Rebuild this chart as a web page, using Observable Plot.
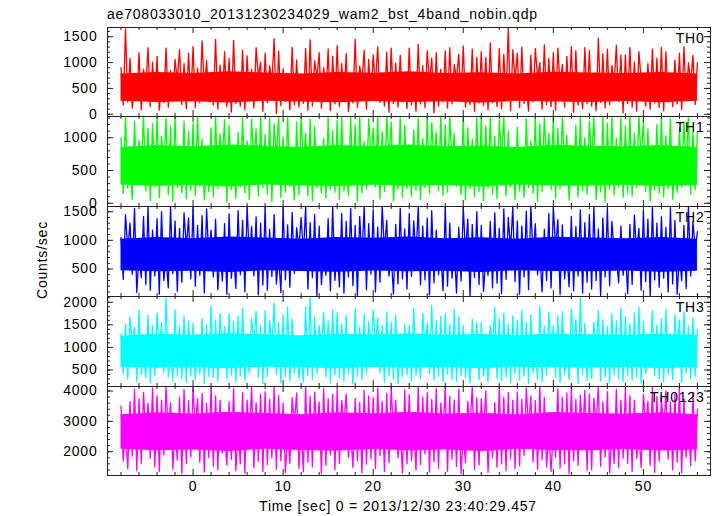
<!DOCTYPE html>
<html><head><meta charset="utf-8">
<script src="https://cdn.jsdelivr.net/npm/d3@7"></script>
<script src="https://cdn.jsdelivr.net/npm/@observablehq/plot@0.6"></script>
<style>
body{margin:0;background:#fff;}
#chart{position:relative;width:717px;height:516px;overflow:hidden;font-family:"Liberation Sans",Arial,sans-serif;color:#000;}
#chart svg{position:absolute;left:0;}
.lbl{position:absolute;font-size:14px;line-height:14px;letter-spacing:0.8px;white-space:nowrap;}
</style></head><body>
<div id="chart">
<div class="lbl" style="left:107px;top:7px">ae708033010_20131230234029_wam2_bst_4band_nobin.qdp</div>
<div class="lbl" style="left:398px;top:499px;transform:translateX(-50%)">Time [sec] 0 = 2013/12/30 23:40:29.457</div>
<div class="lbl" style="left:42px;top:260px;transform:translate(-50%,-50%) rotate(-90deg)">Counts/sec</div>
</div>
<script>
// ---- data ----
const seriesNames = ["TH0", "TH1", "TH2", "TH3", "TH0123"];
const seriesColors = ["#ff0000", "#00ff00", "#0000ff", "#00ffff", "#ff00ff"];

// light-curve samples every 0.25 s from -8 s to 56 s (rows of 4 s)
const tSample = d3.range(0, 257).map(k => -8 + k * 0.25);
// dense core band, every 4 s
const tCore = d3.range(-8, 57, 4);

const th0 = [
900,180,1650,240,1080,120,620,310,1190,90,870,540,1290,150,1010,260,
1120,80,580,230,1280,140,850,300,1060,650,1250,190,980,110,1180,270,
1310,130,890,220,1420,480,1040,250,700,180,1450,100,950,240,1210,150,
1080,40,1430,210,540,160,1240,90,1130,280,870,120,1290,720,1010,60,
1180,230,940,590,1460,20,1220,170,880,250,610,90,1300,190,1050,140,
660,210,1270,80,1440,160,1030,700,1190,120,900,300,1260,70,1120,200,
1330,150,980,260,1170,50,520,220,1450,130,930,630,1240,100,1060,270,
1150,560,1310,230,600,160,1200,40,1280,210,990,140,1140,250,680,110,
1280,180,640,60,1350,200,940,130,1230,580,1090,30,1190,160,870,240,
1230,120,1290,200,960,690,1160,250,1320,140,570,190,1260,60,1100,220,
1210,170,1100,90,1380,230,610,150,1270,110,1160,260,1720,70,1250,650,
1180,130,1300,210,560,60,1140,240,1270,700,1000,100,1340,190,1080,150,
1190,80,1280,540,960,140,1120,260,1310,40,1230,180,620,110,1290,200,
1230,160,680,70,1470,230,1170,120,1260,190,940,600,1330,250,1150,30,
1150,210,1290,140,1010,60,1210,660,590,160,980,100,1260,220,1090,130,
1290,70,1210,240,640,150,1050,200,1180,90,1310,260,1000,610,1140,190,
1000];
const th0CoreLo = [250,230,240,220,250,235,225,245,230,240,220,250,235,230,245,225,250];
const th0CoreHi = [780,810,790,820,800,780,810,795,820,790,805,780,815,800,790,810,780];

const th1 = [
1000,150,1380,230,620,60,1250,280,960,560,1330,190,1140,40,1210,250,
1400,90,1020,540,1290,130,1180,30,1360,240,700,160,1250,70,1100,200,
1220,120,1400,260,980,50,590,180,1150,100,1390,230,1060,680,1270,20,
1190,210,650,80,1080,250,1400,160,950,60,1280,600,1130,110,1360,240,
1050,140,1300,30,1210,720,1400,90,1010,170,1350,260,560,50,1240,130,
1390,580,1070,110,1280,40,1170,230,640,150,990,80,1320,210,1110,170,
1260,60,1400,190,600,120,1340,270,1200,30,1380,160,940,220,1290,690,
1150,250,1360,70,1090,180,1400,660,1240,40,550,210,1330,90,1190,230,
700,110,1120,200,1300,60,980,240,1370,150,1230,610,1080,190,1400,120,
1200,170,1340,650,1060,260,580,130,1400,50,1150,220,970,100,1310,180,
1380,40,1180,230,1400,140,1020,70,1270,700,1350,110,1100,250,620,60,
1160,190,560,90,1290,240,950,150,1360,30,1210,180,1400,640,1070,210,
1320,80,1140,220,1400,570,1040,50,690,270,1190,100,1370,190,1000,140,
1250,680,1400,60,620,170,1330,20,1220,210,1400,130,990,250,1300,90,
1180,160,1360,110,1070,240,1400,650,1260,180,1130,40,590,200,1200,150,
1400,100,1030,220,1290,60,610,170,1150,250,1240,560,1400,140,1080,210,
1100];
const th1CoreLo = [280,260,270,250,280,265,255,275,260,270,250,280,265,260,275,255,270];
const th1CoreHi = [850,880,860,890,870,850,880,865,890,860,875,850,885,870,860,880,850];

const th2 = [
1050,320,1450,820,1300,410,1560,90,760,350,1420,230,1600,130,1180,380,
1380,60,1500,300,700,170,1600,420,1340,110,1210,270,1480,880,1390,330,
1600,200,1260,390,1430,80,1550,720,1180,360,1370,140,840,290,1290,60,
1460,340,780,160,1520,400,1350,100,1600,690,1240,380,1410,50,1300,220,
1580,130,1190,370,1450,240,730,90,1600,310,1270,180,1490,420,1220,860,
1400,750,1600,150,1310,350,1450,40,1250,230,800,390,1380,120,1600,300,
870,190,1470,80,1330,360,1560,210,1260,30,1420,700,1600,140,1290,410,
1510,100,1230,270,1600,810,1350,380,740,60,1280,240,1560,330,1200,150,
1470,370,1340,690,1600,220,1250,310,1390,50,1520,260,1180,400,780,120,
1600,200,1300,340,850,80,1230,290,1580,760,1370,30,1280,350,1500,230,
1260,110,710,390,1330,170,1480,250,1210,70,1550,320,1400,830,1600,280,
1340,60,1250,360,1510,140,1600,720,1290,400,790,100,1190,300,1470,170,
1580,870,1360,50,1270,330,760,190,1420,120,1240,380,1530,80,1310,270,
1450,150,1600,300,1200,40,1390,360,1560,210,1330,800,700,260,1250,390,
820,70,1280,230,1440,740,1210,130,1520,280,1370,20,1600,310,1300,180,
1410,340,1230,100,1570,240,1350,60,770,300,1260,160,1600,380,1330,850,
1150];
const th2CoreLo = [470,450,460,440,470,455,445,465,450,460,440,470,455,450,465,445,460];
const th2CoreHi = [1020,1050,1030,1060,1040,1020,1050,1035,1060,1030,1045,1020,1055,1040,1030,1050,1020];

const th3 = [
1300,420,1520,300,1680,1050,1450,250,1820,400,900,330,1710,210,1480,380,
1760,850,1550,440,2100,340,980,260,1840,390,1470,310,1690,230,1580,370,
1530,280,1000,420,1640,200,1500,360,1920,330,1610,250,1750,880,1460,300,
1740,390,1580,230,1690,370,1870,280,820,430,1650,1080,1800,340,1480,200,
1810,360,1600,1000,1980,410,1550,220,1720,350,1890,270,1630,440,940,320,
870,240,1900,380,2110,300,1670,430,1490,960,1770,350,1590,210,1840,400,
1770,330,1520,250,1700,410,1020,190,1860,360,1450,290,1730,420,1570,900,
1830,1070,1640,440,1490,230,1790,380,1560,300,1710,200,950,350,1510,400,
1480,260,1860,390,880,320,1750,990,1540,420,1930,280,1600,360,1690,240,
1740,410,1510,300,1850,250,1670,380,1480,330,1040,210,1620,860,1550,290,
1550,370,920,240,1490,1010,1880,310,1640,270,1760,350,1520,220,1700,420,
1600,280,1830,360,1560,210,1720,440,970,300,1910,250,1470,390,1780,840,
1480,340,1700,230,1790,400,900,290,1850,1060,1620,200,2100,410,1530,270,
1000,310,1560,880,1820,260,1610,350,1460,220,1740,390,1590,300,1870,240,
1680,380,1530,280,1760,330,1900,210,1570,420,860,950,1810,370,1500,310,
1630,250,1840,400,1030,290,1720,920,1610,230,1780,430,1480,300,1660,360,
1400];
const th3CoreLo = [560,540,550,530,560,545,535,555,540,550,530,560,545,540,555,535,550];
const th3CoreHi = [1250,1290,1270,1300,1280,1260,1290,1275,1300,1270,1285,1260,1295,1280,1270,1290,1260];

const th0123 = [
3500,1700,2700,1450,3650,1850,4050,1380,3750,1620,3950,2500,3600,1780,4100,1500,
3850,1350,3700,1900,4150,2600,3620,1420,2900,1720,3800,1280,4050,1600,3680,1830,
4100,2800,3750,1650,3920,1330,3600,1800,4150,1520,3850,1400,3700,1950,2550,1560,
3650,1750,4080,1380,2750,1600,3950,1290,3700,2450,4150,1470,3620,1680,3900,1350,
3980,1580,3720,1800,4120,1420,3850,1700,3600,1310,2600,1620,3780,2900,3940,1450,
2850,1340,4150,1660,3820,1500,3960,2500,3640,1280,4080,1560,3750,1900,3880,1410,
4060,1620,3690,2950,3900,1820,2650,1480,3760,1700,3620,1300,4020,1590,3840,1760,
3780,1450,4100,1870,3660,1350,3920,1640,4150,2550,3700,1800,2700,1290,4040,1600,
3880,1720,2800,1400,4150,1580,3800,1930,3950,1330,3720,1680,4080,1460,3600,2600,
4120,1360,3830,1750,3700,1510,4050,1280,2500,1640,3660,2850,4150,1420,3780,1570,
3740,2650,4000,1320,2900,1800,3620,1490,4150,1600,3800,1380,3950,1760,3700,1450,
3960,1540,3720,1880,4100,2750,3840,1660,3680,1420,4150,1730,3790,1500,2600,1350,
2750,1820,4070,1460,3800,1600,3940,1280,4150,1700,3720,1550,3860,2500,4020,1390,
3900,1400,3760,2900,4150,1520,3640,1830,3980,1300,2650,1620,4060,1470,3700,1780,
4100,1620,3850,1350,3700,1780,2550,1480,3900,2800,3660,1560,4150,1320,3820,1690,
3780,2600,4000,1760,3640,1400,3920,1650,4120,1300,3740,1820,2850,1540,3960,1700,
3400];
const th0123CoreLo = [2080,2030,2060,2010,2080,2040,2020,2070,2030,2060,2010,2080,2040,2030,2070,2020,2060];
const th0123CoreHi = [3220,3280,3240,3300,3260,3220,3280,3250,3300,3240,3270,3220,3290,3260,3240,3280,3220];

// axis ticks
const xTickLabels = [0, 10, 20, 30, 40, 50];
const xMinorTicks = [-8,-6,-4,-2,2,4,6,8,12,14,16,18,22,24,26,28,32,34,36,38,42,44,46,48,52,54,56];
const yTickLabels = [[0,500,1000,1500],[0,500,1000],[500,1000,1500],[500,1000,1500,2000],[2000,3000,4000]];
const yMinorTicks = [
  d3.range(0, 1700, 100),
  d3.range(0, 1400, 100),
  d3.range(100, 1600, 100),
  d3.range(200, 2200, 100),
  d3.range(1400, 4200, 200)
];
const yDomains = [[-43,1678],[-49,1323],[20,1591],[134,2128],[1216,4148]];

// ---- layout ----
const seriesValues = [th0, th1, th2, th3, th0123];
const coreLos = [th0CoreLo, th1CoreLo, th2CoreLo, th3CoreLo, th0123CoreLo];
const coreHis = [th0CoreHi, th1CoreHi, th2CoreHi, th3CoreHi, th0123CoreHi];
const panelTop = [27, 116, 206, 296, 386];
const panelH = [89, 90, 90, 90, 89];
const W = 717, ML = 107, MR = 7, innerW = W - ML - MR;
const xDomain = [-9.5, 57.45];
const tickColor = "#222";

const chart = document.getElementById("chart");

seriesNames.forEach((name, i) => {
  const color = seriesColors[i];
  const pts = seriesValues[i].map((v, k) => ({t: tSample[k], v}));
  const core = tCore.map((t, k) => ({t, lo: coreLos[i][k], hi: coreHis[i][k]}));
  const h = panelH[i];
  const last = i === seriesNames.length - 1;
  const mb = last ? 30 : 0;
  const marks = [
    Plot.areaY(core, {x: "t", y1: "lo", y2: "hi", fill: color}),
    Plot.line(pts, {x: "t", y: "v", stroke: color, strokeWidth: 1.3}),
    Plot.tickY(yTickLabels[i], {y: d => d, insetRight: innerW - 6, stroke: tickColor}),
    Plot.tickY(yMinorTicks[i], {y: d => d, insetRight: innerW - 3, stroke: tickColor}),
    Plot.tickY(yTickLabels[i], {y: d => d, insetLeft: innerW - 6, stroke: tickColor}),
    Plot.tickY(yMinorTicks[i], {y: d => d, insetLeft: innerW - 3, stroke: tickColor}),
    Plot.tickX(xTickLabels, {x: d => d, insetBottom: h - 6, stroke: tickColor}),
    Plot.tickX(xMinorTicks, {x: d => d, insetBottom: h - 3, stroke: tickColor}),
    Plot.tickX(xTickLabels, {x: d => d, insetTop: h - 6, stroke: tickColor}),
    Plot.tickX(xMinorTicks, {x: d => d, insetTop: h - 3, stroke: tickColor}),
    Plot.frame({stroke: tickColor}),
    Plot.axisY(yTickLabels[i], {tickSize: 0, tickPadding: 10, label: null, fontSize: 14, tickFormat: d => String(d)}),
    Plot.text([name], {text: d => d, frameAnchor: "top-right", textAnchor: "end", lineAnchor: "top", dx: -6, dy: 6, fontSize: 14, fill: "black"})
  ];
  if (last) marks.push(Plot.axisX(xTickLabels, {tickSize: 0, tickPadding: 6, label: null, fontSize: 14, tickFormat: d => String(d)}));
  const svg = Plot.plot({
    width: W,
    height: h + mb,
    marginLeft: ML,
    marginRight: MR,
    marginTop: 0,
    marginBottom: mb,
    x: {domain: xDomain, axis: last ? undefined : null},
    y: {domain: yDomains[i], clamp: true},
    style: {background: "transparent", overflow: "visible", fontFamily: "Liberation Sans, Arial, sans-serif", fontSize: "14px", letterSpacing: "0.8px", color: "black"},
    marks
  });
  svg.style.position = "absolute";
  svg.style.top = panelTop[i] + "px";
  svg.style.left = "0px";
  chart.appendChild(svg);
});
</script>
</body></html>
